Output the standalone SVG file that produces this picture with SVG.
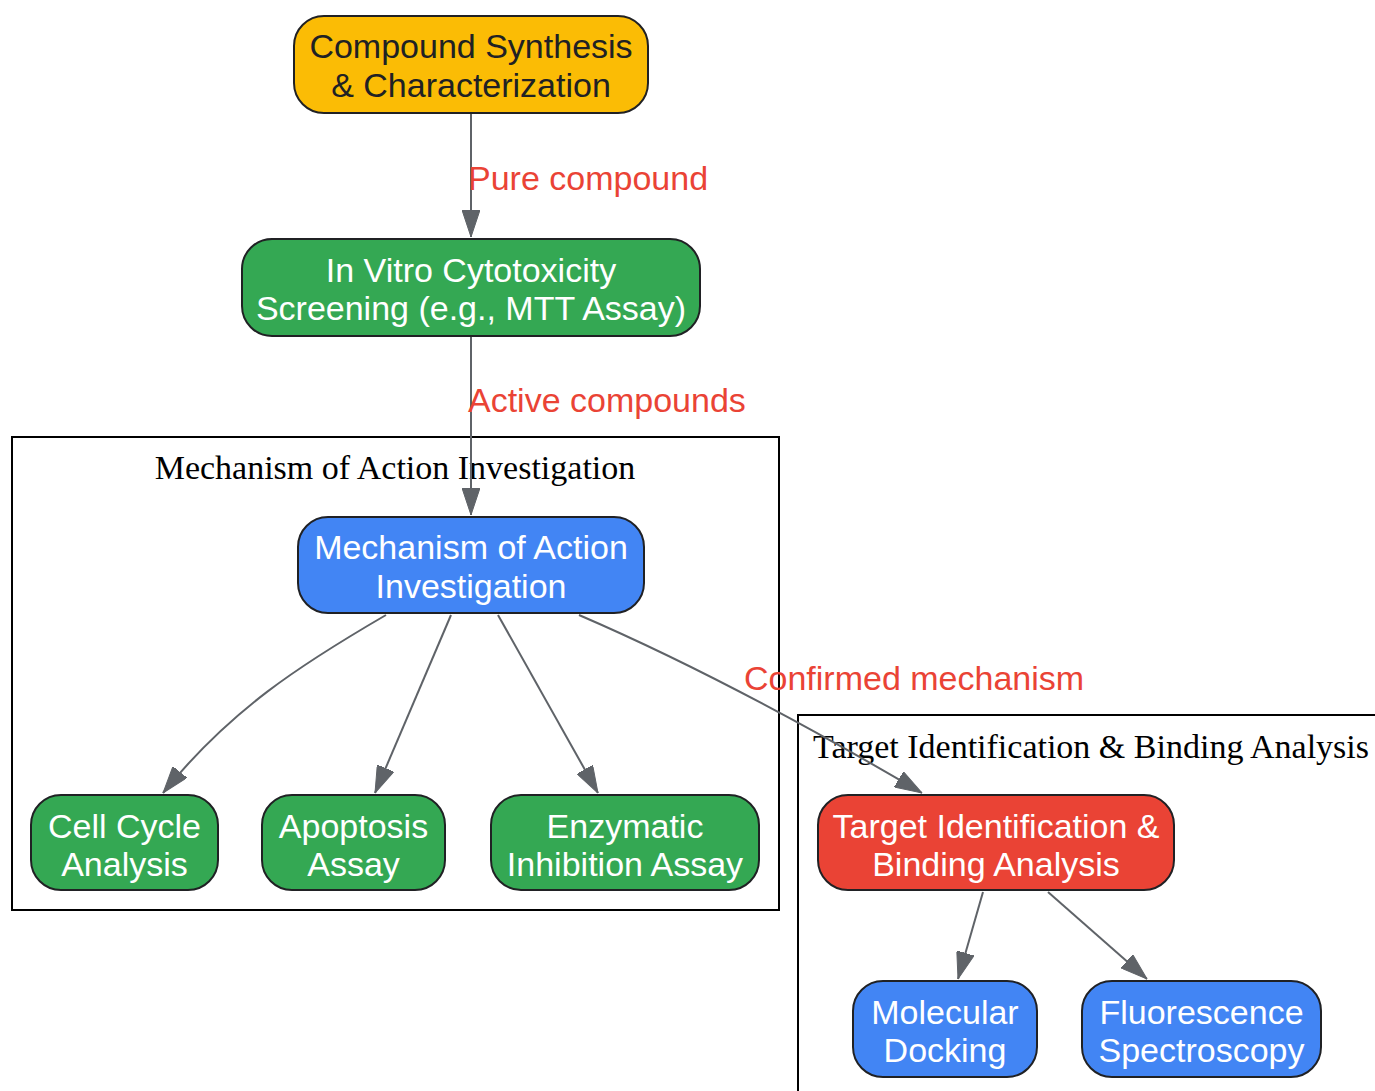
<svg xmlns="http://www.w3.org/2000/svg" width="1375" height="1091" viewBox="0 0 1375 1091">
<style>
.node rect{stroke:#202124;stroke-width:2}
.nt{font-family:"Liberation Sans",Arial,sans-serif;font-size:34px;text-anchor:middle;fill:#fff}
.dark{fill:#202124}
.el{font-family:"Liberation Sans",Arial,sans-serif;font-size:34px;fill:#EA4335}
.cl{fill:none;stroke:#000;stroke-width:2}
.clt{font-family:"Liberation Serif","Times New Roman",serif;font-size:34px;text-anchor:middle;fill:#000}
.edge{fill:none;stroke:#5F6368;stroke-width:2;marker-end:url(#ah)}
</style>
<defs>
<marker id="ah" viewBox="0 0 27 18" refX="27" refY="9" markerWidth="27" markerHeight="18" markerUnits="userSpaceOnUse" orient="auto">
<path d="M0,0 L27,9 L0,18 z" fill="#5F6368" stroke="#5F6368" stroke-width="1"/>
</marker>
</defs>
<rect width="1375" height="1091" fill="#fff"/>
<g id="cluster_moa">
<rect class="cl" x="12" y="437" width="767" height="473"/>
<text class="clt" x="395" y="479">Mechanism of Action Investigation</text>
</g>
<g id="cluster_target">
<rect class="cl" x="798" y="715" width="600" height="400"/>
<text class="clt" x="1091" y="758">Target Identification &amp; Binding Analysis</text>
</g>
<g id="edges">
<path class="edge" d="M471,113 L471,237"/>
<text class="el" x="468" y="190">Pure compound</text>
<path class="edge" d="M471,336 L471,515"/>
<text class="el" x="468" y="412">Active compounds</text>
<path class="edge" d="M386,615 C300,665 230,710 163,793"/>
<path class="edge" d="M451,615 L375,793"/>
<path class="edge" d="M498,615 L598,793"/>
<path class="edge" d="M579,615 Q730,680 922,793"/>
<text class="el" x="744" y="690">Confirmed mechanism</text>
<path class="edge" d="M983,892 L958,979"/>
<path class="edge" d="M1048,892 L1147,979"/>
</g>
<g id="n_synthesis" class="node">
<rect x="294" y="16" width="354" height="97" rx="30" fill="#FBBC05"/>
<text class="nt dark" x="471" y="58">Compound Synthesis</text>
<text class="nt dark" x="471" y="97">&amp; Characterization</text>
</g>
<g id="n_cytotox" class="node">
<rect x="242" y="239" width="458" height="97" rx="30" fill="#34A853"/>
<text class="nt" x="471" y="282">In Vitro Cytotoxicity</text>
<text class="nt" x="471" y="320">Screening (e.g., MTT Assay)</text>
</g>
<g id="n_moa" class="node">
<rect x="298" y="517" width="346" height="96" rx="30" fill="#4285F4"/>
<text class="nt" x="471" y="559">Mechanism of Action</text>
<text class="nt" x="471" y="598">Investigation</text>
</g>
<g id="n_cellcycle" class="node">
<rect x="31" y="795" width="187" height="95" rx="30" fill="#34A853"/>
<text class="nt" x="124.5" y="838">Cell Cycle</text>
<text class="nt" x="124.5" y="876">Analysis</text>
</g>
<g id="n_apoptosis" class="node">
<rect x="262" y="795" width="183" height="95" rx="30" fill="#34A853"/>
<text class="nt" x="353.5" y="838">Apoptosis</text>
<text class="nt" x="353.5" y="876">Assay</text>
</g>
<g id="n_enzymatic" class="node">
<rect x="491" y="795" width="268" height="95" rx="30" fill="#34A853"/>
<text class="nt" x="625" y="838">Enzymatic</text>
<text class="nt" x="625" y="876">Inhibition Assay</text>
</g>
<g id="n_target" class="node">
<rect x="818" y="795" width="356" height="95" rx="30" fill="#EA4335"/>
<text class="nt" x="996" y="838">Target Identification &amp;</text>
<text class="nt" x="996" y="876">Binding Analysis</text>
</g>
<g id="n_docking" class="node">
<rect x="853" y="981" width="184" height="96" rx="30" fill="#4285F4"/>
<text class="nt" x="945" y="1024">Molecular</text>
<text class="nt" x="945" y="1062">Docking</text>
</g>
<g id="n_fluor" class="node">
<rect x="1082" y="981" width="239" height="96" rx="30" fill="#4285F4"/>
<text class="nt" x="1201.5" y="1024">Fluorescence</text>
<text class="nt" x="1201.5" y="1062">Spectroscopy</text>
</g>
</svg>
